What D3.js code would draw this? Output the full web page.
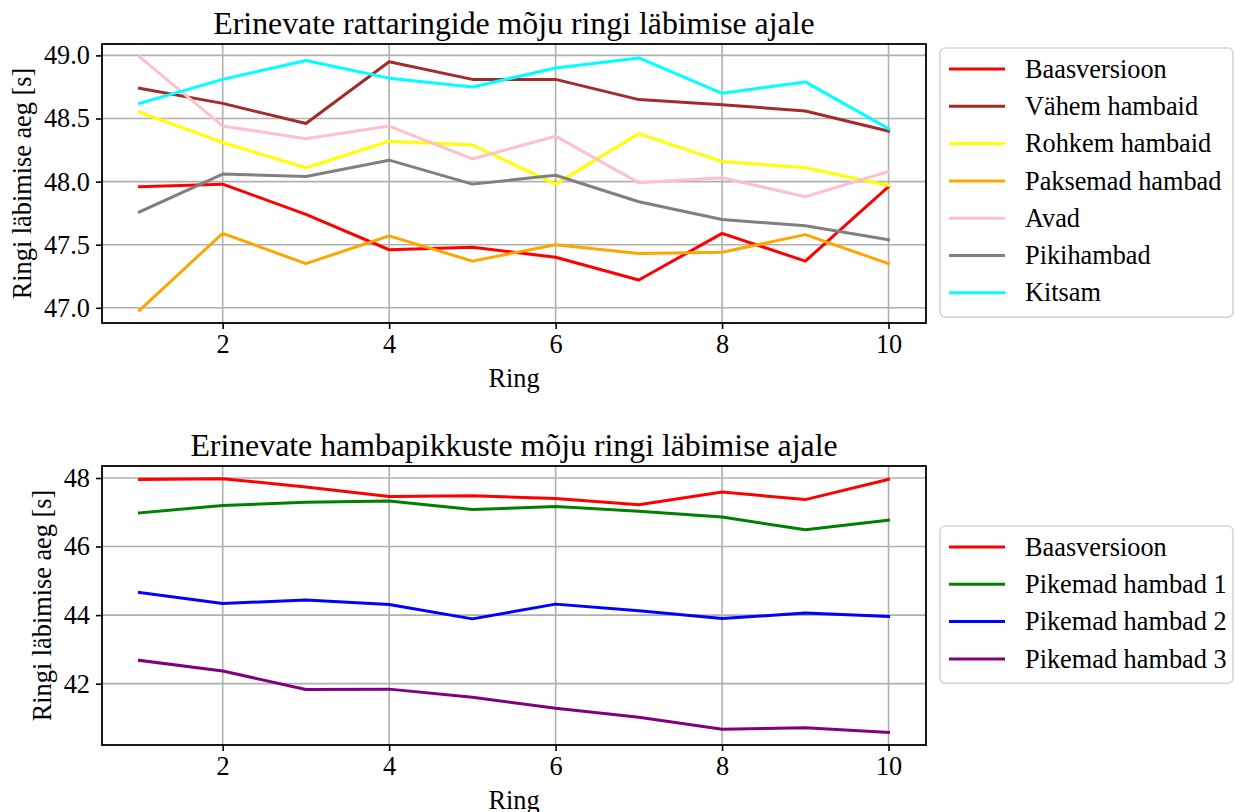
<!DOCTYPE html>
<html>
<head>
<meta charset="utf-8">
<script src="https://cdn.jsdelivr.net/npm/d3@7"></script>
<style>
  body { margin: 0; background: #fff; }
  text { font-family: "Liberation Serif", "Times New Roman", serif; fill: #000; }
</style>
</head>
<body>
<script>

const rings = [1, 2, 3, 4, 5, 6, 7, 8, 9, 10];

const xTicks = [2, 4, 6, 8, 10];
const topYTicks = [47.0, 47.5, 48.0, 48.5, 49.0];
const bottomYTicks = [42, 44, 46, 48];

// top panel series
const baasversioon = [47.96, 47.98, 47.74, 47.46, 47.48, 47.40, 47.22, 47.59, 47.37, 47.96];
const vahemHambaid = [48.74, 48.62, 48.46, 48.95, 48.81, 48.81, 48.65, 48.61, 48.56, 48.40];
const rohkemHambaid = [48.55, 48.31, 48.11, 48.32, 48.29, 47.98, 48.38, 48.16, 48.11, 47.97];
const paksemadHambad = [46.98, 47.59, 47.35, 47.57, 47.37, 47.50, 47.43, 47.44, 47.58, 47.35];
const avad = [48.99, 48.44, 48.34, 48.44, 48.18, 48.36, 47.99, 48.03, 47.88, 48.08];
const pikihambad = [47.76, 48.06, 48.04, 48.17, 47.98, 48.05, 47.84, 47.70, 47.65, 47.54];
const kitsam = [48.62, 48.81, 48.96, 48.82, 48.75, 48.90, 48.98, 48.70, 48.79, 48.42];

// bottom panel series
const pikemad1 = [46.98, 47.20, 47.29, 47.33, 47.08, 47.17, 47.03, 46.86, 46.49, 46.77];
const pikemad2 = [44.66, 44.34, 44.44, 44.31, 43.89, 44.32, 44.13, 43.90, 44.06, 43.96];
const pikemad3 = [42.68, 42.37, 41.83, 41.84, 41.60, 41.28, 41.02, 40.67, 40.71, 40.58];

const topSeries = [
  { name: 'Baasversioon', color: 'red', values: baasversioon },
  { name: 'Vähem hambaid', color: 'brown', values: vahemHambaid },
  { name: 'Rohkem hambaid', color: 'yellow', values: rohkemHambaid },
  { name: 'Paksemad hambad', color: 'orange', values: paksemadHambad },
  { name: 'Avad', color: 'pink', values: avad },
  { name: 'Pikihambad', color: 'gray', values: pikihambad },
  { name: 'Kitsam', color: 'cyan', values: kitsam },
];

const bottomSeries = [
  { name: 'Baasversioon', color: 'red', values: baasversioon },
  { name: 'Pikemad hambad 1', color: 'green', values: pikemad1 },
  { name: 'Pikemad hambad 2', color: 'blue', values: pikemad2 },
  { name: 'Pikemad hambad 3', color: 'purple', values: pikemad3 },
];


const W = 1236;
const H = 812;
const fontSize = 26.3;
const titleSize = 31.8;

const svg = d3.select('body').append('svg')
  .attr('width', W)
  .attr('height', H);

// matplotlib style 5% margins
function padded(ext) {
  const m = (ext[1] - ext[0]) * 0.05;
  return [ext[0] - m, ext[1] + m];
}

function drawPanel(cfg) {
  const { left, right, top, bottom } = cfg;

  const x = d3.scaleLinear()
    .domain(padded(d3.extent(rings)))
    .range([left, right]);

  const allVals = cfg.series.flatMap(s => s.values);
  const y = d3.scaleLinear()
    .domain(padded(d3.extent(allVals)))
    .range([bottom, top]);

  const g = svg.append('g');

  // grid
  g.append('g')
    .selectAll('line.vgrid')
    .data(xTicks)
    .enter().append('line')
    .attr('x1', d => x(d)).attr('x2', d => x(d))
    .attr('y1', top).attr('y2', bottom)
    .attr('stroke', '#b0b0b0')
    .attr('stroke-width', 1.6);

  g.append('g')
    .selectAll('line.hgrid')
    .data(cfg.yTicks)
    .enter().append('line')
    .attr('x1', left).attr('x2', right)
    .attr('y1', d => y(d)).attr('y2', d => y(d))
    .attr('stroke', '#b0b0b0')
    .attr('stroke-width', 1.6);

  // lines
  const line = d3.line()
    .x((d, i) => x(rings[i]))
    .y(d => y(d));

  g.append('g')
    .selectAll('path')
    .data(cfg.series)
    .enter().append('path')
    .attr('d', d => line(d.values))
    .attr('fill', 'none')
    .attr('stroke', d => d.color)
    .attr('stroke-width', 3)
    .attr('stroke-linejoin', 'round')
    .attr('stroke-linecap', 'square');

  // axes
  const xAxis = d3.axisBottom(x)
    .tickValues(xTicks)
    .tickFormat(d3.format('d'))
    .tickSize(6)
    .tickPadding(5);

  const gx = g.append('g')
    .attr('transform', `translate(0,${bottom})`)
    .call(xAxis);

  const yAxis = d3.axisLeft(y)
    .tickValues(cfg.yTicks)
    .tickFormat(cfg.yFormat)
    .tickSize(6)
    .tickPadding(6);

  const gy = g.append('g')
    .attr('transform', `translate(${left},0)`)
    .call(yAxis);

  [gx, gy].forEach((ax) => {
    ax.select('.domain').remove();
    ax.selectAll('line').attr('stroke', '#000').attr('stroke-width', 1.6);
    ax.selectAll('text')
      .style('font-family', '"Liberation Serif", "Times New Roman", serif')
      .style('font-size', `${fontSize}px`)
      .attr('fill', '#000');
  });

  // frame
  g.append('rect')
    .attr('x', left).attr('y', top)
    .attr('width', right - left).attr('height', bottom - top)
    .attr('fill', 'none')
    .attr('stroke', '#000')
    .attr('stroke-width', 1.8);

  // title
  g.append('text')
    .attr('x', (left + right) / 2)
    .attr('y', top - 10)
    .attr('text-anchor', 'middle')
    .style('font-size', `${titleSize}px`)
    .text(cfg.title);

  // x label
  g.append('text')
    .attr('x', (left + right) / 2)
    .attr('y', bottom + 64)
    .attr('text-anchor', 'middle')
    .style('font-size', `${fontSize}px`)
    .text('Ring');

  // y label
  g.append('text')
    .attr('transform', `translate(${cfg.yLabelX},${(top + bottom) / 2}) rotate(-90)`)
    .attr('text-anchor', 'middle')
    .attr('dy', '0.35em')
    .style('font-size', `${fontSize}px`)
    .text('Ringi läbimise aeg [s]');

  // legend
  const lg = svg.append('g')
    .attr('transform', `translate(${cfg.legendX},${cfg.legendY})`);

  const rowH = 37.3;
  const lgH = cfg.series.length * rowH + 8;

  lg.append('rect')
    .attr('x', 0).attr('y', 0)
    .attr('width', 293).attr('height', lgH)
    .attr('rx', 5).attr('ry', 5)
    .attr('fill', '#fff')
    .attr('stroke', '#d5d5d5')
    .attr('stroke-width', 1.6);

  const rows = lg.selectAll('g.row')
    .data(cfg.series)
    .enter().append('g')
    .attr('transform', (d, i) => `translate(0,${21 + i * rowH})`);

  rows.append('line')
    .attr('x1', 9).attr('x2', 65)
    .attr('y1', 0).attr('y2', 0)
    .attr('stroke', d => d.color)
    .attr('stroke-width', 3);

  rows.append('text')
    .attr('x', 85)
    .attr('y', 0)
    .attr('dy', '0.33em')
    .style('font-size', `${fontSize}px`)
    .text(d => d.name);
}

drawPanel({
  left: 102, right: 926, top: 44, bottom: 323,
  series: topSeries,
  yTicks: topYTicks,
  yFormat: d3.format('.1f'),
  yLabelX: 22,
  title: 'Erinevate rattaringide mõju ringi läbimise ajale',
  legendX: 940, legendY: 48,
});

drawPanel({
  left: 102, right: 926, top: 466, bottom: 745,
  series: bottomSeries,
  yTicks: bottomYTicks,
  yFormat: d3.format('d'),
  yLabelX: 42,
  title: 'Erinevate hambapikkuste mõju ringi läbimise ajale',
  legendX: 940, legendY: 526,
});

</script>
</body>
</html>
